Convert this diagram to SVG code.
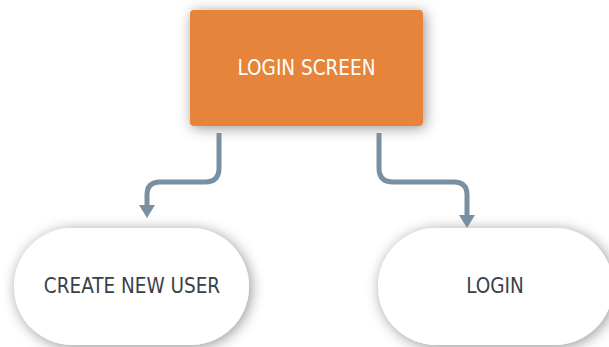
<svg xmlns="http://www.w3.org/2000/svg" width="609" height="347" viewBox="0 0 609 347">
<style>
.lbl{font-family:"DejaVu Sans Condensed","DejaVu Sans",sans-serif;font-stretch:condensed;font-size:20.5px;text-anchor:middle;dominant-baseline:central}
.conn{fill:none;stroke:#7890A2;stroke-width:5;stroke-linecap:butt}
.arr{fill:#7890A2}
</style>
<defs>
<filter id="sh" x="-30%" y="-30%" width="160%" height="160%">
<feDropShadow dx="2" dy="2" stdDeviation="7" flood-color="#000" flood-opacity="0.42"/>
</filter>
</defs>
<rect width="609" height="347" fill="#fff"/>
<g id="login-screen">
<rect x="190" y="10" width="233" height="116" rx="4" fill="#E6843A" filter="url(#sh)"/>
<text class="lbl" x="306.5" y="68" fill="#fff">LOGIN SCREEN</text>
</g>
<g id="create-new-user">
<rect x="14" y="228" width="235" height="117" rx="58.5" fill="#fff" filter="url(#sh)"/>
<text class="lbl" x="132" y="286" fill="#3A4049">CREATE NEW USER</text>
</g>
<g id="login">
<rect x="378" y="228" width="235" height="117" rx="58.5" fill="#fff" filter="url(#sh)"/>
<text class="lbl" x="495" y="286" fill="#3A4049">LOGIN</text>
</g>
<g id="connectors">
<path class="conn" d="M219,133 V168 Q219,182 205,182 H160 Q147,182 147,195 V206"/>
<path class="arr" d="M139,205 L155,205 L147,218 Z"/>
<path class="conn" d="M379,133 V168 Q379,182 393,182 H454 Q467,182 467,195 V216"/>
<path class="arr" d="M459,215 L475,215 L467,228 Z"/>
</g>
</svg>
